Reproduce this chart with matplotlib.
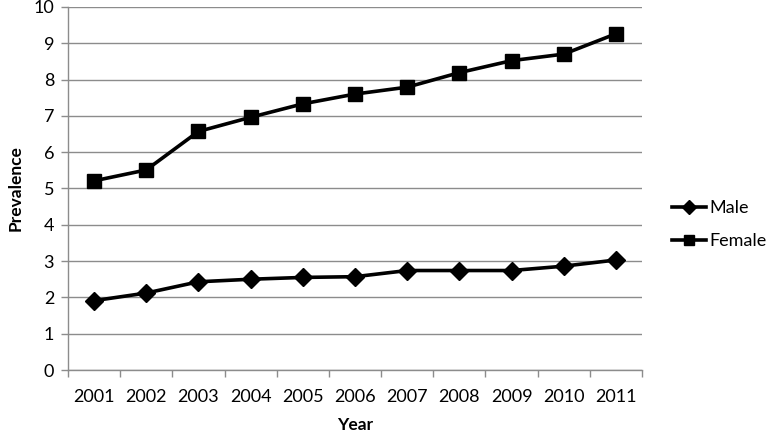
import matplotlib
matplotlib.use("Agg")
import matplotlib.pyplot as plt
from matplotlib.ticker import FixedLocator

years = ["2001", "2002", "2003", "2004", "2005", "2006", "2007", "2008", "2009", "2010", "2011"]
male = [1.91, 2.12, 2.43, 2.50, 2.55, 2.57, 2.74, 2.74, 2.74, 2.86, 3.03]
female = [5.21, 5.51, 6.57, 6.96, 7.33, 7.60, 7.79, 8.19, 8.52, 8.70, 9.26]
y_ticks = [0, 1, 2, 3, 4, 5, 6, 7, 8, 9, 10]

plt.rcParams['font.family'] = ['Lato', 'DejaVu Sans']

fig = plt.figure(figsize=(7.68, 4.32), dpi=100)
ax = fig.add_axes([0.0885, 0.1435, 0.7475, 0.8405])

x = list(range(len(years)))
ax.plot(x, male, color='black', lw=2.6, marker='D', markersize=9, label='Male', zorder=3)
ax.plot(x, female, color='black', lw=2.6, marker='s', markersize=10, label='Female', zorder=3)

ax.set_xlim(-0.5, len(years) - 0.5)
ax.set_ylim(0, 10)
ax.set_yticks(y_ticks)
ax.yaxis.grid(True, color='#8c8c8c', lw=1)
ax.set_axisbelow(True)

ax.set_xticks(x)
ax.set_xticklabels(years, fontsize=13)
ax.tick_params(axis='x', which='major', length=0, pad=14)
ax.xaxis.set_minor_locator(FixedLocator([i - 0.5 for i in range(len(years) + 1)]))
ax.tick_params(axis='x', which='minor', length=5, color='#8c8c8c', width=1)
ax.tick_params(axis='y', length=5, color='#8c8c8c', width=1, labelsize=13, pad=5)

for s in ['top', 'right']:
    ax.spines[s].set_visible(False)
for s in ['left', 'bottom']:
    ax.spines[s].set_color('#8c8c8c')
    ax.spines[s].set_linewidth(1)

ax.set_xlabel('Year', fontsize=12.5, fontweight='bold', labelpad=8)
ax.set_ylabel('Prevalence', fontsize=12.5, fontweight='bold', labelpad=7)

leg = ax.legend(loc='center left', bbox_to_anchor=(1.052, 0.40), frameon=False,
                fontsize=13, handlelength=1.9, handletextpad=0.15, labelspacing=0.95,
                markerscale=0.75, borderaxespad=0, borderpad=0)

fig.savefig('out.png', dpi=100)
